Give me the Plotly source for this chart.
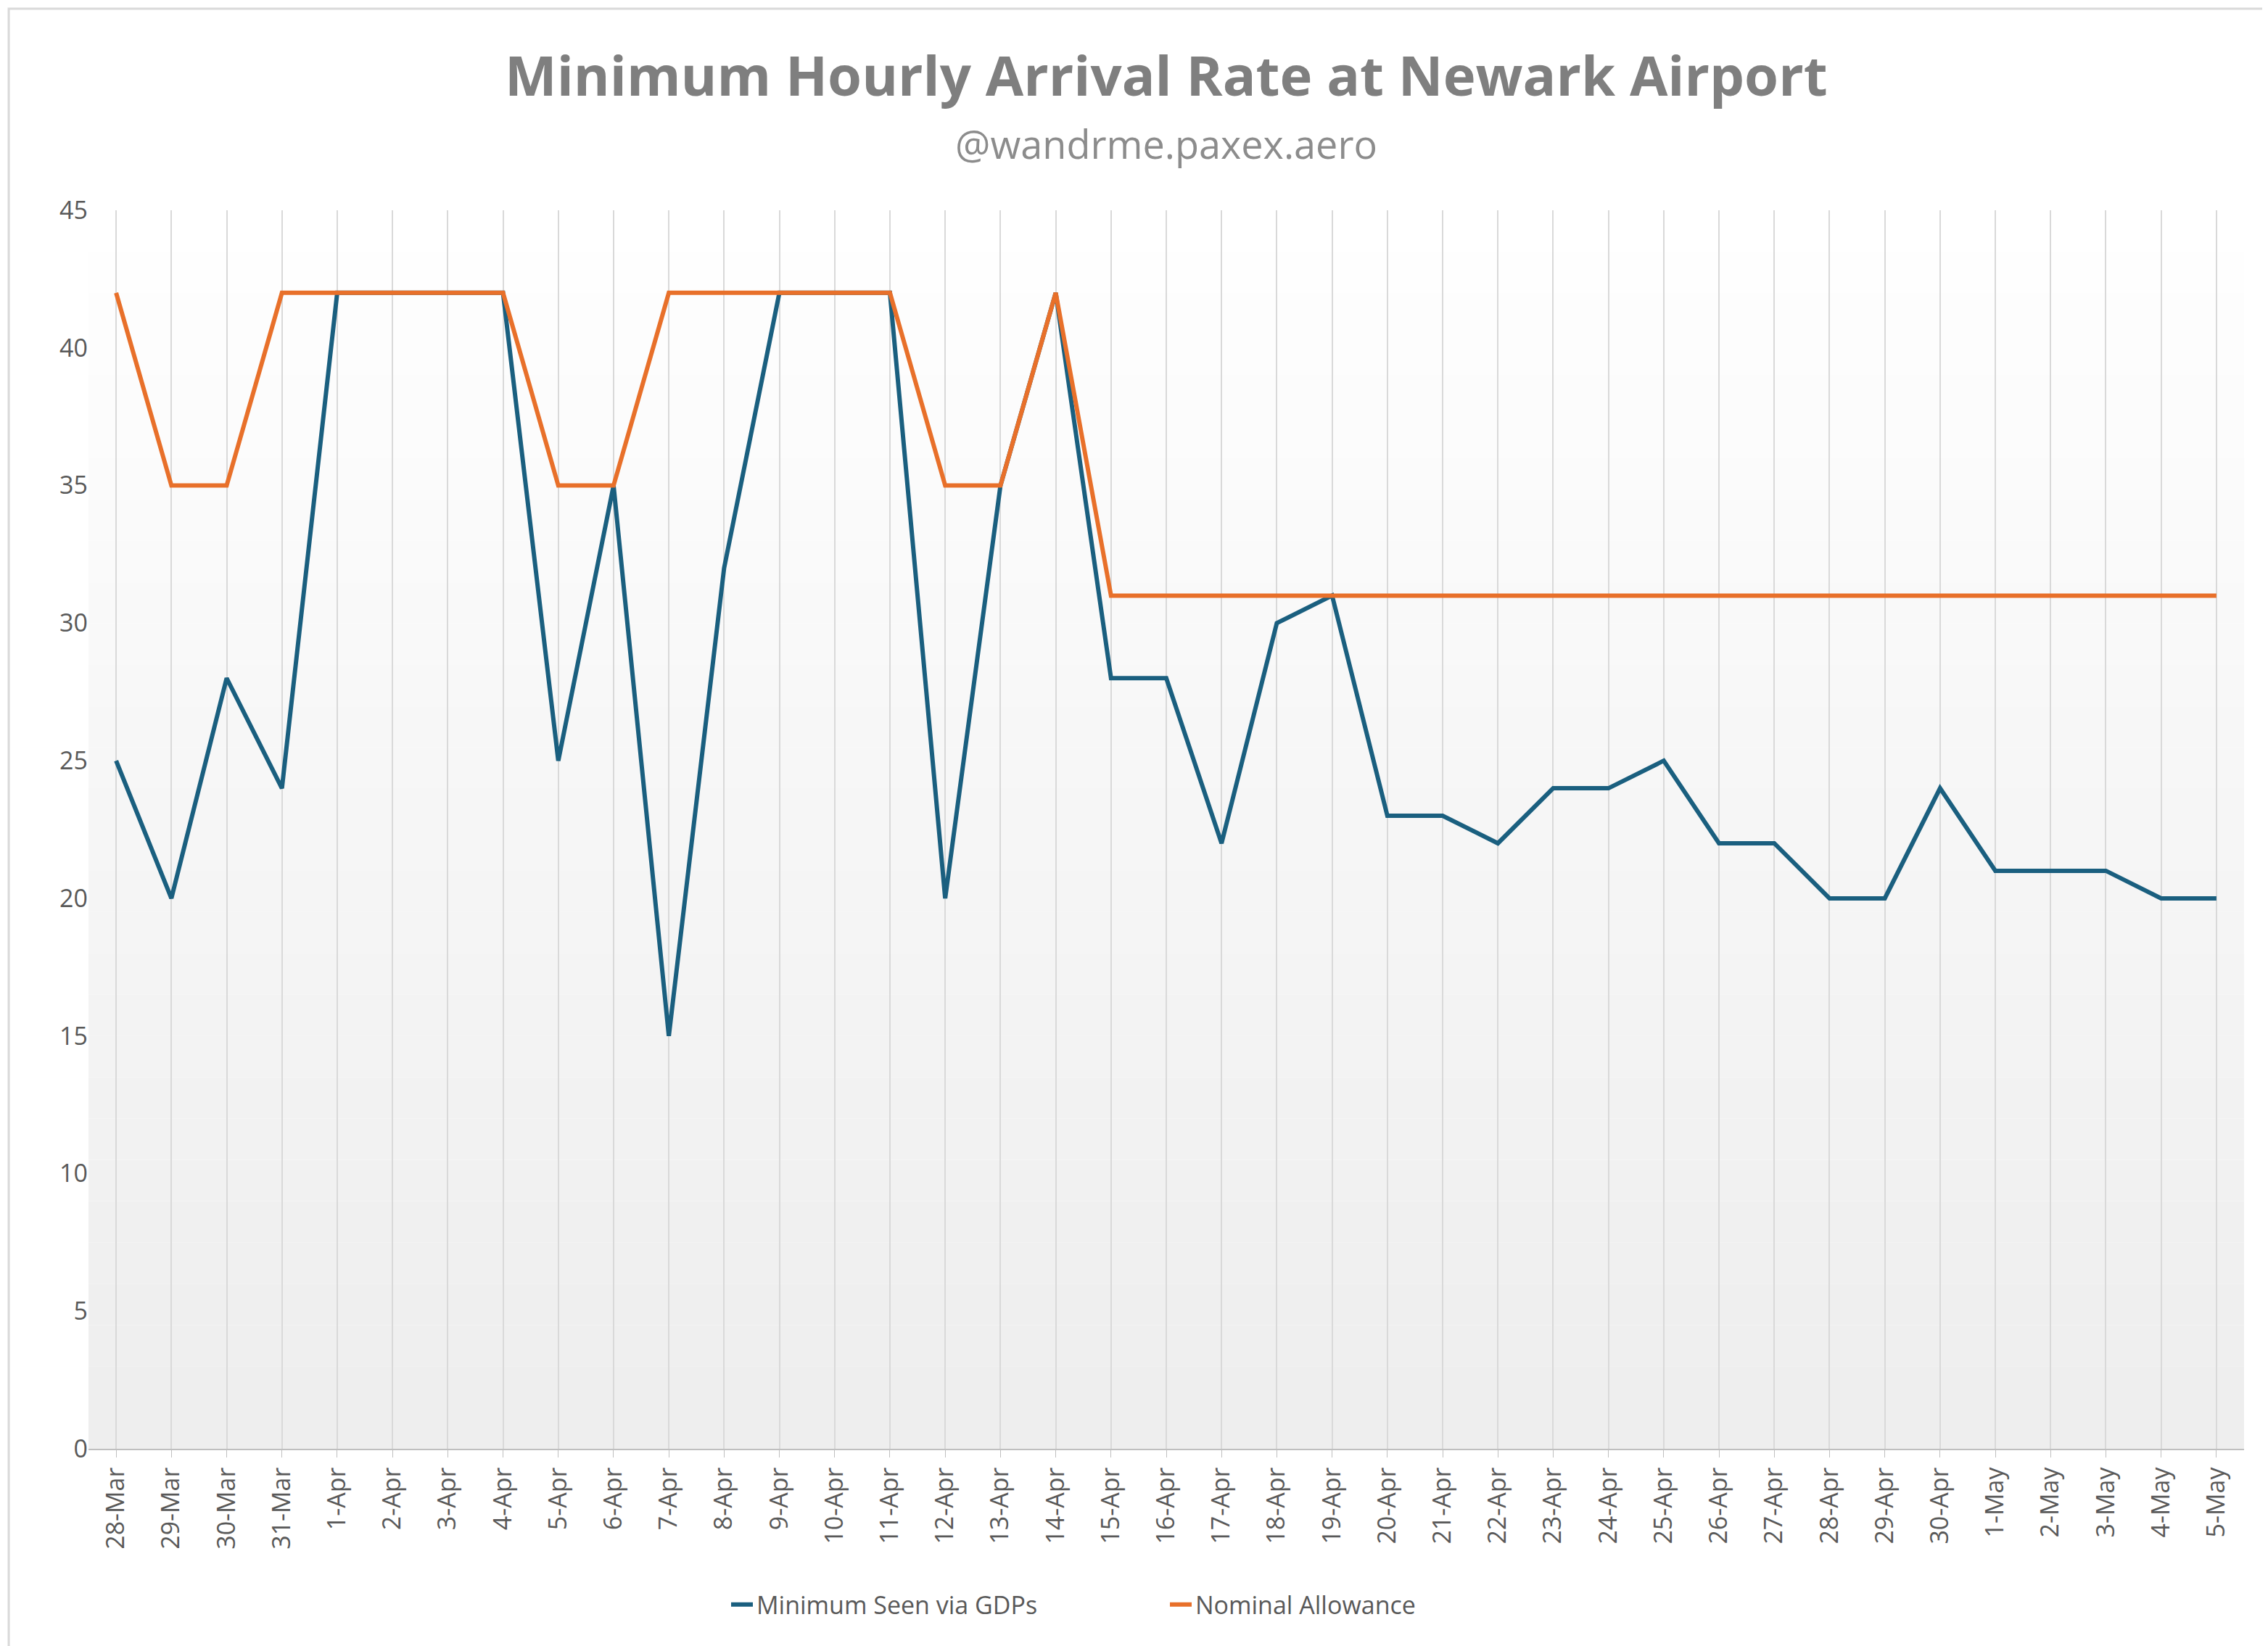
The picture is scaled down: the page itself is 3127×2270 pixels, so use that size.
import plotly.graph_objects as go

dates = ["28-Mar", "29-Mar", "30-Mar", "31-Mar"] + [f"{d}-Apr" for d in range(1, 31)] + [f"{d}-May" for d in range(1, 6)]

minimum_seen = [25, 20, 28, 24, 42, 42, 42, 42, 25, 35, 15, 32, 42, 42, 42, 20, 35, 42,
                28, 28, 22, 30, 31, 23, 23, 22, 24, 24, 25, 22, 22, 20, 20, 24,
                21, 21, 21, 20, 20]
nominal = [42, 35, 35, 42, 42, 42, 42, 42, 35, 35, 42, 42, 42, 42, 42, 35, 35, 42] + [31] * 21

fig = go.Figure()
fig.add_trace(go.Scatter(x=dates, y=minimum_seen, mode="lines", name="Minimum Seen via GDPs",
                         line=dict(color="#1a5f7f", width=6)))
fig.add_trace(go.Scatter(x=dates, y=nominal, mode="lines", name="Nominal Allowance",
                         line=dict(color="#e8702a", width=6)))

# soft white-to-grey gradient behind the plot
steps = 30
for i in range(steps):
    g = int(255 - 17 * (i / (steps - 1)))
    fig.add_shape(type="rect", xref="x domain", yref="y domain",
                  x0=0, x1=1, y0=1 - (i + 1) / steps, y1=1 - i / steps,
                  fillcolor=f"rgb({g},{g},{g})", line_width=0, layer="below")

fig.update_layout(
    width=3127, height=2270,
    paper_bgcolor="white", plot_bgcolor="rgba(0,0,0,0)",
    font=dict(family="Open Sans", color="#595959", size=34),
    margin=dict(l=114, r=41, t=282, b=280),
    legend=dict(orientation="h", x=0.5, xanchor="center", y=-0.126, yanchor="middle",
                font=dict(size=34, color="#595959"), entrywidth=560, entrywidthmode="pixels"),
    xaxis=dict(type="category", range=[-0.5, len(dates) - 0.5], tickangle=-90,
               showgrid=True, gridcolor="#d9d9d9", gridwidth=2,
               showline=True, linecolor="#bfbfbf", linewidth=2,
               ticks="outside", ticklen=10, tickcolor="#bfbfbf"),
    yaxis=dict(range=[0, 45], dtick=5, showgrid=False, zeroline=False, showline=False),
)
fig.add_annotation(text="<b>Minimum Hourly Arrival Rate at Newark Airport</b>", xref="paper", yref="paper",
                   x=0.5, y=1.11, showarrow=False, yanchor="middle",
                   font=dict(size=76, color="#7f7f7f"))
fig.add_annotation(text="@wandrme.paxex.aero", xref="paper", yref="paper",
                   x=0.5, y=1.054, showarrow=False, yanchor="middle",
                   font=dict(size=54, color="#8c8c8c"))
fig.add_shape(type="rect", xref="paper", yref="paper", x0=-0.037, x1=1.0125, y0=-0.1616, y1=1.1628,
              line=dict(color="#d9d9d9", width=3))
fig.write_html("out.html")
